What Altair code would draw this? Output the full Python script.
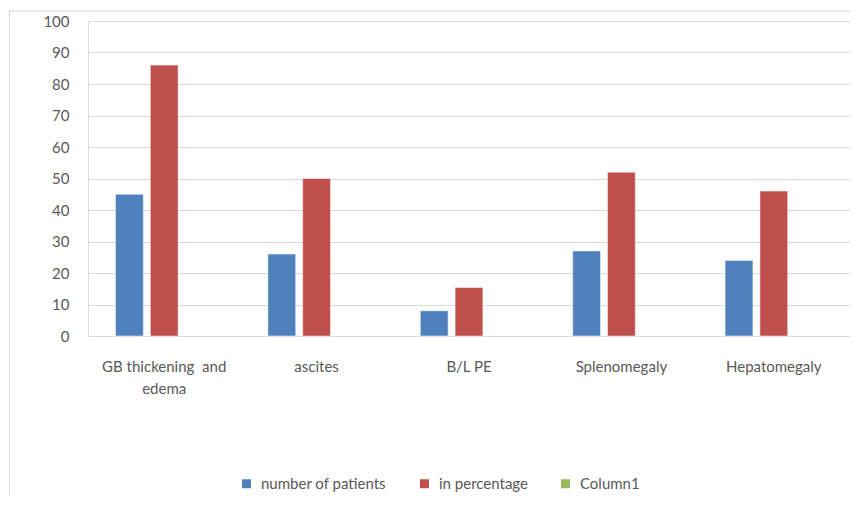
import altair as alt
import pandas as pd

categories = ["GB thickening  and edema", "ascites", "B/L PE", "Splenomegaly", "Hepatomegaly"]
series = ["number of patients", "in percentage", "Column1"]
number_of_patients = [45, 26, 8, 27, 24]
in_percentage = [86, 50, 15.4, 52, 46]
column1 = [None, None, None, None, None]
colors = ["#4F81BD", "#C0504D", "#9BBB59"]

rows = []
for s, vals in zip(series, [number_of_patients, in_percentage, column1]):
    for c, v in zip(categories, vals):
        rows.append({"category": c, "series": s, "value": v})
df = pd.DataFrame(rows)

FONT = "Lato"
FS = 15
TXT = "#595959"

bars = alt.Chart(df).mark_bar(stroke="white", strokeWidth=0.5).encode(
    x=alt.X("category:N", sort=categories,
            scale=alt.Scale(paddingInner=0, paddingOuter=0),
            axis=alt.Axis(title=None, labelAngle=0, ticks=False, domain=False,
                          labelFontSize=FS, labelColor=TXT, labelFont=FONT,
                          labelPadding=23, labelLineHeight=22,
                          labelExpr="datum.value == 'GB thickening  and edema' ? ['GB thickening\u00a0 and', 'edema'] : datum.value")),
    xOffset=alt.XOffset("series:N", sort=series,
                        scale=alt.Scale(domain=series, paddingInner=0.2, paddingOuter=0.79)),
    y=alt.Y("value:Q", scale=alt.Scale(domain=[0, 100], nice=False),
            axis=alt.Axis(title=None, values=list(range(0, 101, 10)), ticks=False, domain=False,
                          gridColor="#D9D9D9", gridWidth=1,
                          labelFontSize=FS, labelColor=TXT, labelFont=FONT, labelPadding=19)),
    color=alt.Color("series:N", sort=series,
                    scale=alt.Scale(domain=series, range=colors),
                    legend=alt.Legend(title=None, orient="none", direction="horizontal",
                                      legendX=151, legendY=455,
                                      symbolType="square", symbolSize=81, symbolStrokeWidth=0,
                                      labelFontSize=FS, labelColor=TXT, labelFont=FONT,
                                      columnPadding=30, labelOffset=7)),
)

frame = pd.DataFrame({"a": [0]})
top_line = alt.Chart(frame).mark_rule(color="#D9D9D9", strokeWidth=1).encode(
    x=alt.value(-79), x2=alt.value(762), y=alt.value(-10))
left_line = alt.Chart(frame).mark_rule(color="#D9D9D9", strokeWidth=1).encode(
    x=alt.value(-78.5), y=alt.value(-10), y2=alt.value(475))

chart = alt.layer(top_line, left_line, bars).properties(
    width=762, height=315,
    autosize=alt.AutoSizeParams(type="none"),
    padding={"left": 80, "top": 13, "right": 0, "bottom": 160},
).configure_view(stroke=None).configure(background="white")

chart.save("out.html", embed_options={"renderer": "svg", "actions": False})
